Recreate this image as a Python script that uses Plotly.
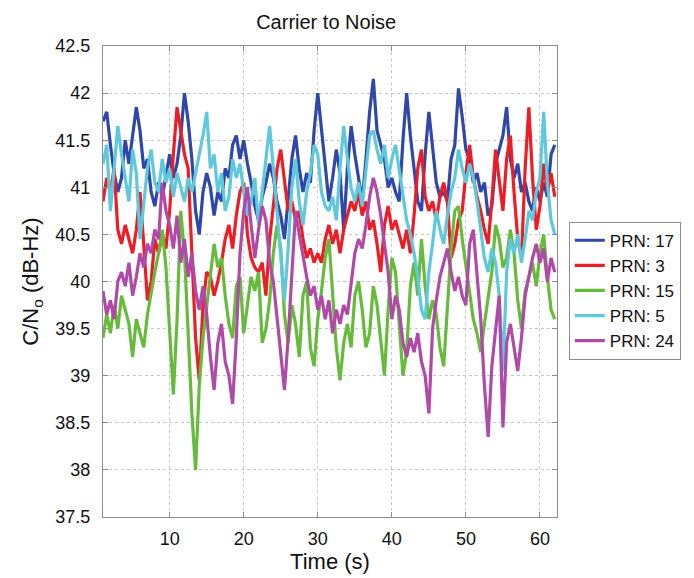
import numpy as np
import plotly.graph_objects as go

# Sample times (s), 0.5 s spacing from 1 s to 62 s
t_start, t_step = 1.0, 0.5

# C/No (dB-Hz) per satellite, sampled every 0.5 s
prn17 = [41.70, 41.80, 41.45, 41.15, 40.95, 41.10, 41.50, 41.25, 41.55, 41.85,
         41.60, 41.20, 41.30, 40.95, 40.80, 41.05, 40.90, 41.15, 41.35, 41.10,
         41.25, 41.55, 42.00, 41.70, 41.30, 40.75, 40.50, 40.95, 41.15, 41.00,
         40.70, 40.95, 40.85, 41.20, 41.10, 41.45, 41.55, 41.30, 41.50, 41.25,
         41.05, 40.80, 40.65, 40.90, 41.05, 41.25, 41.10, 40.85, 40.70, 40.45,
         40.90, 41.30, 41.55, 41.20, 40.95, 41.15, 41.05, 41.60, 42.00, 41.60,
         41.25, 40.85, 41.10, 41.40, 41.15, 40.55, 41.20, 41.65, 41.35, 41.10,
         40.85, 41.30, 41.80, 42.15, 41.60, 41.45, 41.30, 41.00, 41.10, 40.95,
         40.85, 41.50, 42.00, 41.55, 41.20, 40.85, 40.75, 41.35, 41.80, 41.40,
         41.05, 40.90, 40.95, 40.85, 41.30, 41.45, 42.05, 41.75, 41.40, 41.30,
         41.05, 41.15, 40.95, 41.05, 40.70, 40.80, 41.25, 41.40, 41.55, 41.85,
         41.30, 41.10, 41.25, 40.95, 41.05, 40.85, 40.75, 41.00, 40.85, 41.05,
         40.90, 41.35, 41.45]

prn3 = [40.85, 41.10, 40.95, 41.20, 40.55, 40.40, 40.60, 40.45, 40.30, 40.55,
        40.95, 40.40, 39.80, 40.00, 40.45, 40.30, 40.50, 40.35, 40.75, 41.35,
        41.85, 41.60, 41.35, 41.20, 40.30, 39.40, 38.95, 39.75, 40.10, 40.05,
        39.85, 40.00, 40.20, 40.45, 40.60, 40.35, 40.70, 40.95, 41.05, 40.50,
        40.25, 40.15, 40.10, 40.20, 39.85, 40.45, 40.80, 41.20, 41.40, 41.05,
        40.75, 40.85, 40.65, 40.75, 40.45, 40.25, 40.35, 40.20, 40.30, 40.20,
        40.45, 40.60, 40.40, 40.55, 40.30, 40.55, 40.70, 40.85, 40.75, 40.95,
        40.70, 40.85, 40.55, 40.65, 40.40, 40.10, 40.60, 40.80, 40.55, 40.65,
        40.50, 40.35, 40.55, 40.30, 40.70, 41.20, 41.40, 40.90, 40.75, 40.85,
        40.65, 40.90, 41.05, 40.85, 40.25, 40.40, 40.65, 40.75, 41.15, 41.45,
        41.10, 40.90, 40.75, 40.55, 40.40, 40.85, 41.40, 41.05, 40.75, 41.30,
        41.55, 40.95, 40.45, 40.25, 41.20, 41.85, 41.10, 40.55, 40.80, 41.25,
        40.95, 41.15, 40.90]

prn15 = [39.40, 39.65, 39.45, 39.75, 39.50, 39.85, 39.70, 39.55, 39.20, 39.60,
         39.45, 39.30, 39.65, 39.90, 40.10, 40.30, 40.55, 40.15, 39.40, 38.80,
         39.60, 40.75, 40.30, 39.40, 38.60, 38.00, 38.90, 39.40, 39.75, 40.10,
         40.40, 40.15, 40.25, 39.85, 39.55, 39.40, 39.95, 40.05, 39.45, 39.75,
         40.05, 39.90, 40.10, 39.35, 39.50, 39.80, 40.30, 40.60, 40.35, 39.65,
         39.35, 39.75, 39.55, 39.20, 39.85, 40.00, 39.30, 39.10, 39.60, 39.90,
         40.25, 40.45, 39.90, 39.30, 38.95, 39.35, 39.55, 39.30, 39.85, 40.00,
         39.70, 39.30, 39.45, 39.95, 39.75, 39.40, 39.00, 39.70, 40.25, 40.10,
         39.50, 39.00, 39.25, 39.95, 40.20, 39.85, 40.45, 39.95, 39.60, 39.80,
         39.65, 39.30, 39.10, 39.75, 40.35, 40.75, 40.80, 40.45, 40.15, 39.90,
         39.60, 39.45, 39.25, 39.55, 39.85, 40.10, 40.60, 40.45, 40.15, 40.25,
         40.55, 40.30, 39.80, 39.50, 39.90, 40.05, 40.20, 39.95, 40.30, 40.50,
         40.05, 39.70, 39.60]

prn5 = [41.25, 41.45, 40.75, 41.20, 41.65, 41.35, 41.10, 40.85, 41.40, 41.15,
        40.45, 40.80, 41.20, 41.40, 41.05, 40.95, 41.30, 41.05, 41.20, 40.90,
        41.15, 41.00, 40.85, 41.10, 40.95, 41.15, 41.35, 41.55, 41.80, 41.20,
        41.35, 40.95, 41.15, 40.75, 40.90, 41.30, 41.10, 41.25, 40.95, 40.70,
        40.85, 41.10, 40.60, 40.95, 41.25, 41.65, 41.20, 40.70, 40.30, 39.80,
        40.35, 41.00, 41.30, 40.85, 40.60, 40.95, 41.15, 41.45, 41.35, 40.95,
        40.80, 40.75, 40.90, 40.65, 41.20, 41.65, 41.30, 41.00, 40.85, 41.05,
        40.80, 41.20, 41.55, 41.60, 41.40, 41.25, 41.45, 41.10, 41.30, 41.45,
        41.20, 40.90, 40.65, 40.50, 40.30, 40.05, 39.70, 39.60, 40.10, 40.40,
        40.75, 40.55, 40.40, 40.70, 40.95, 41.10, 41.40, 41.20, 41.05, 41.25,
        41.10, 40.85, 40.55, 40.25, 40.10, 40.35, 40.20, 39.85, 39.05, 40.10,
        40.45, 40.30, 40.50, 40.20, 40.45, 40.75, 40.65, 40.95, 41.10, 41.80,
        41.05, 40.65, 40.50]

prn24 = [39.90, 39.65, 39.80, 39.60, 40.00, 40.10, 39.95, 40.20, 39.85, 40.05,
         40.30, 40.15, 40.40, 40.30, 40.55, 40.45, 41.05, 40.75, 40.60, 40.35,
         40.70, 40.20, 40.45, 40.05, 40.30, 39.90, 39.70, 39.95, 39.65, 39.20,
         38.85, 39.35, 39.55, 39.15, 39.00, 38.70, 39.40, 40.30, 40.75, 41.00,
         40.60, 40.25, 40.55, 40.80, 40.65, 40.20, 40.00, 39.60, 39.20, 38.85,
         39.40, 40.10, 40.75, 40.50, 40.25, 40.05, 39.85, 39.95, 39.70, 39.85,
         39.60, 39.80, 39.45, 39.70, 39.55, 39.75, 39.65, 40.00, 40.30, 40.45,
         40.35, 40.60, 40.90, 41.10, 40.95, 40.70, 40.40, 40.10, 39.60, 39.85,
         39.70, 39.35, 39.20, 39.40, 39.25, 39.45, 39.15, 39.00, 38.60, 39.50,
         39.80, 40.05, 40.20, 40.35, 40.10, 39.90, 40.05, 39.85, 39.75, 40.40,
         40.55, 40.05, 39.60, 38.90, 38.35, 39.10, 39.45, 39.85, 38.45, 39.35,
         39.55, 39.30, 39.05, 39.40, 39.85, 40.05, 40.25, 40.40, 40.20, 40.35,
         40.00, 40.25, 40.10]

names = ["PRN: 17", "PRN: 3", "PRN: 15", "PRN: 5", "PRN: 24"]
series = [prn17, prn3, prn15, prn5, prn24]
colors = ["#2f47a8", "#ee1d25", "#67bb3b", "#5ec8dc", "#b04aa8"]

y_ticks = [37.5, 38, 38.5, 39, 39.5, 40, 40.5, 41, 41.5, 42, 42.5]
y_labels = ["37.5", "38", "38.5", "39", "39.5", "40", "40.5", "41", "41.5", "42", "42.5"]
x_ticks = [10, 20, 30, 40, 50, 60]

fig = go.Figure()
for name, vals, col in zip(names, series, colors):
    t = t_start + t_step * np.arange(len(vals))
    fig.add_trace(go.Scatter(x=t, y=vals, mode="lines", name=name,
                             line=dict(color=col, width=3.2)))

font_family = "Liberation Sans, Arial, sans-serif"
axis_common = dict(showline=True, linecolor="#8c8c8c", linewidth=1, mirror="ticks",
                   ticks="inside", ticklen=5, tickcolor="#8c8c8c",
                   showgrid=True, gridcolor="#c8c8c8", griddash="dot", gridwidth=1,
                   zeroline=False, tickfont=dict(size=18, color="#111"))

fig.update_layout(
    width=694, height=578,
    margin=dict(l=103, r=137, t=46, b=58),
    paper_bgcolor="white", plot_bgcolor="white",
    font=dict(family=font_family, color="#111"),
    title=dict(text="Carrier to Noise", x=0.47, xanchor="center", y=0.962, yanchor="middle",
               font=dict(size=20, color="#111")),
    xaxis=dict(range=[1, 62.3], tickvals=x_ticks, ticklabelstandoff=5,
               title=dict(text="Time (s)", font=dict(size=22), standoff=2), **axis_common),
    yaxis=dict(range=[37.5, 42.5], tickvals=y_ticks, ticktext=y_labels, ticklabelstandoff=8,
               title=dict(text="C/N<sub>o</sub> (dB-Hz)", font=dict(size=22), standoff=10),
               **axis_common),
    legend=dict(x=1.026, y=0.627, xanchor="left", yanchor="top",
                bordercolor="#8c8c8c", borderwidth=1, bgcolor="white",
                font=dict(size=17, color="#111"), tracegroupgap=0, itemwidth=30),
    showlegend=True,
)

fig.write_html("out.html")
